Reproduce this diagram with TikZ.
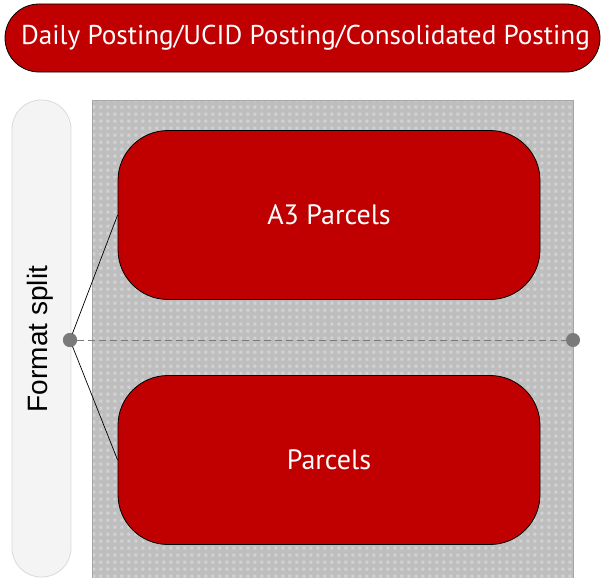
\documentclass[tikz,border=0pt]{standalone}
\usepackage{fontspec}
\setmainfont{PT Sans}
\newfontfamily\arialf{Liberation Sans}
\usetikzlibrary{patterns.meta}
\definecolor{cred}{HTML}{C00000}
\definecolor{pillfill}{HTML}{F4F4F4}
\definecolor{pillline}{HTML}{DADADA}
\definecolor{boxgray}{HTML}{BEBEBE}
\definecolor{sqgray}{HTML}{D2D2D2}
\definecolor{dotgray}{HTML}{7A7A7A}
\tikzdeclarepattern{name=sqdots, type=uncolored,
  bounding box={(0pt,0pt) and (7pt,7pt)},
  tile size={(7pt,7pt)},
  code={\fill (1.5pt,1.5pt) rectangle (5pt,5pt);}}
\tikzset{
  redbox/.style={draw=black, line width=0.8pt, fill=cred, text=white, rounded corners=50pt, minimum width=422pt, minimum height=169pt, font=\fontsize{28}{32}\selectfont},
  dotnode/.style={circle, fill=dotgray, inner sep=0pt, minimum size=14pt},
  conn/.style={black, line width=0.7pt}
}
\begin{document}
\begin{tikzpicture}[x=1pt,y=-1pt]
\useasboundingbox (0,0) rectangle (601,578);
% banner
\node[draw=black, line width=0.8pt, fill=cred, rounded corners=34pt, minimum width=595pt, minimum height=68pt] (banner) at (302.5,38) {};
\node[text=white, font=\fontsize{27.2}{30}\selectfont] (bannertext) at (305.5,38) {Daily Posting/UCID Posting/Consolidated Posting};
% left pill
\fill[pillfill, draw=pillline, line width=0.8pt, rounded corners=29pt] (12,100) rectangle (71,577);
\node[rotate=90, font=\arialf\fontsize{28}{32}\selectfont] (fmt) at (40,339) {Format split};
% gray area
\fill[boxgray] (92,100) rectangle (573,578);
\fill[pattern={sqdots}, pattern color=sqgray] (92,100) rectangle (573,578);
\draw[gray!70, line width=0.8pt] (92,578) -- (92,100) -- (573,100) -- (573,578);
% red boxes
\node[redbox] (a3) at (329,215) {A3 Parcels};
\node[redbox] (parcels) at (329,460) {Parcels};
% dots and lines
\node[dotnode] (ldot) at (70,340) {};
\node[dotnode] (rdot) at (573,340) {};
\draw[dotgray, line width=0.8pt, dash pattern=on 7pt off 4pt] (ldot) -- (rdot);
\draw[conn] (ldot.center) -- (a3.west);
\draw[conn] (ldot.center) -- (parcels.west);
\node[dotnode] at (ldot) {};
\end{tikzpicture}
\end{document}
